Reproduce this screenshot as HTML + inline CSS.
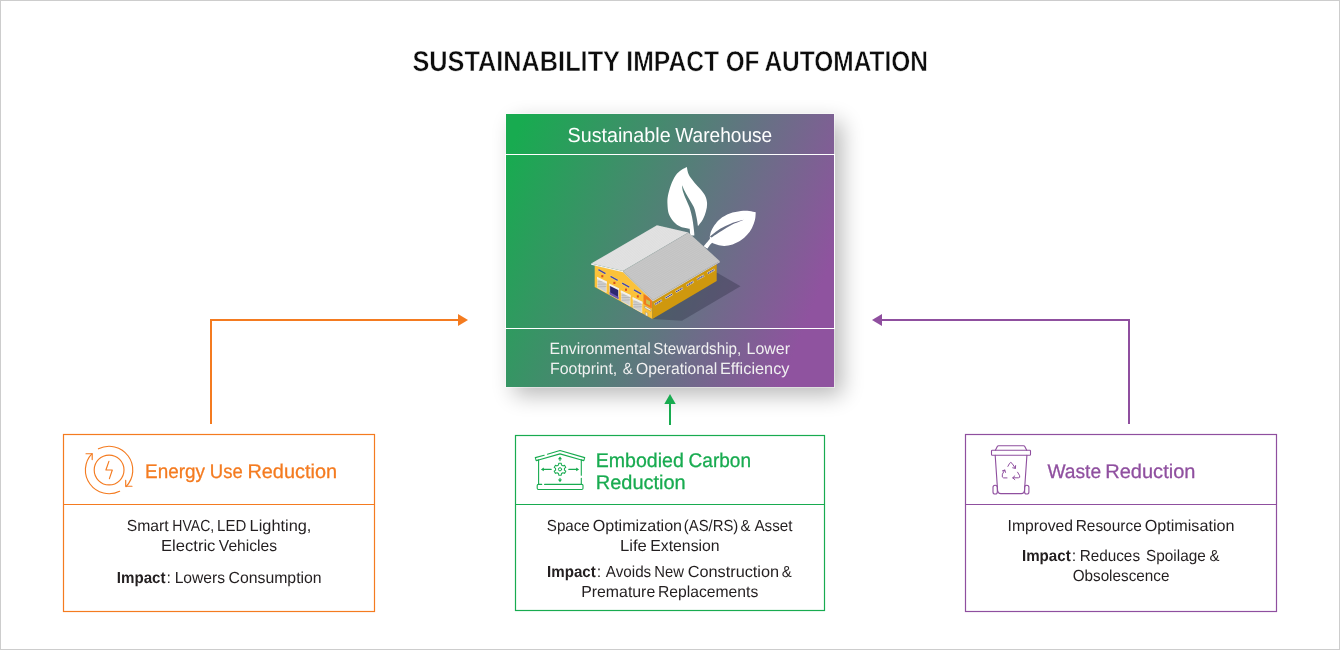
<!DOCTYPE html>
<html>
<head>
<meta charset="utf-8">
<title>Sustainability Impact of Automation</title>
<style>
  html, body { margin: 0; padding: 0; background: #ffffff; }
  body { width: 1340px; height: 650px; overflow: hidden; position: relative; font-family: "Liberation Sans", sans-serif; }
  svg { position: absolute; left: 0; top: 0; display: block; }
  text { font-family: "Liberation Sans", sans-serif; }
  .frame { position: absolute; left: 0; top: 0; width: 1338px; height: 648px; border: 1px solid #cdcdcd; pointer-events: none; }
</style>
</head>
<body>
<svg width="1340" height="650" viewBox="0 0 1340 650">
  <defs>
    <linearGradient id="gp" gradientUnits="userSpaceOnUse" x1="521.8" y1="120.4" x2="837" y2="247.4">
      <stop offset="0" stop-color="#18ab50"/>
      <stop offset="1" stop-color="#8f539f"/>
    </linearGradient>
    <filter id="sh" x="-20%" y="-20%" width="150%" height="150%">
      <feGaussianBlur stdDeviation="11"/>
    </filter>
  </defs>

  <!-- CENTER BOX -->
  <rect x="514" y="122" width="328" height="273" fill="#000" opacity="0.28" filter="url(#sh)"/>
  <rect x="506" y="114" width="328" height="273" fill="url(#gp)"/>
  <rect x="505.5" y="113.5" width="329" height="274" fill="none" stroke="#ffffff" stroke-opacity="0.4" stroke-width="1"/>
  <rect x="505.5" y="154.5" width="329" height="174" fill="none" stroke="#ffffff" stroke-width="1"/>

  <!-- ILLUSTRATION -->
  <g id="illus">
    <!-- leaves -->
    <g fill="#ffffff">
      <path d="M686.86,166.93 C685.94,167.44 683.17,168.59 681.32,169.98 C679.48,171.36 677.51,172.75 675.78,175.24 C674.05,177.73 672.25,181.47 670.93,184.94 C669.62,188.40 668.46,192.79 667.88,196.02 C667.31,199.25 667.31,201.33 667.47,204.33 C667.63,207.34 667.82,211.15 668.85,214.03 C669.89,216.92 671.74,219.53 673.70,221.65 C675.67,223.78 677.97,225.58 680.63,226.78 C683.29,227.98 688.13,228.51 689.64,228.86 C689.68,229.27 689.80,230.24 689.91,231.35 C690.03,232.46 690.26,234.81 690.33,235.51 L694.48,235.51 L697.95,226.22 C698.76,225.11 701.46,222.07 702.80,219.57 C704.14,217.08 705.27,213.92 705.98,211.26 C706.70,208.61 707.16,206.07 707.09,203.64 C707.02,201.22 706.40,198.79 705.57,196.71 C704.74,194.64 703.72,193.25 702.10,191.17 C700.49,189.09 697.83,186.55 695.87,184.24 C693.91,181.94 691.64,179.28 690.33,177.32 C689.01,175.36 688.55,174.20 687.97,172.47 C687.40,170.74 687.05,167.85 686.86,166.93Z"/>
      <path d="M709.72,236.89 C709.96,235.97 710.30,233.31 711.11,231.35 C711.92,229.39 713.07,227.19 714.57,225.11 C716.07,223.04 717.58,220.80 720.11,218.88 C722.65,216.96 726.35,214.91 729.81,213.62 C733.28,212.32 737.66,211.56 740.90,211.12 C744.13,210.68 746.74,210.78 749.21,210.98 C751.68,211.19 754.64,212.14 755.72,212.37 C755.60,213.57 755.65,216.99 755.03,219.57 C754.40,222.16 753.30,225.35 751.98,227.89 C750.66,230.43 748.98,232.73 747.13,234.81 C745.28,236.89 743.32,238.74 740.90,240.35 C738.47,241.97 735.35,243.59 732.58,244.51 C729.81,245.43 726.81,245.85 724.27,245.90 C721.73,245.94 719.38,245.32 717.34,244.79 C715.31,244.26 712.96,243.06 712.08,242.71 C711.69,243.13 710.51,244.21 709.72,245.20 C708.94,246.20 707.76,248.09 707.37,248.67 L703.77,246.17 C704.23,245.62 705.54,244.05 706.54,242.85 C707.53,241.65 709.19,239.96 709.72,238.97 C710.26,237.98 709.72,237.24 709.72,236.89Z"/>
    </g>
    <path d="M682.29,185.49 C682.64,186.32 683.38,188.49 684.37,190.48 C685.36,192.47 686.68,194.64 688.25,197.41 C689.82,200.18 692.41,203.76 693.79,207.10 C695.18,210.45 695.87,214.31 696.56,217.50 C697.26,220.68 697.72,224.77 697.95,226.22 L701.41,229.96 L696.56,238.97 L694.48,235.51 C694.32,234.00 693.91,229.50 693.51,226.50 C693.12,223.50 692.78,220.61 692.13,217.50 C691.48,214.38 690.79,211.15 689.64,207.80 C688.48,204.45 686.36,200.29 685.20,197.41 C684.05,194.52 683.22,192.42 682.71,190.48 C682.20,188.54 682.25,186.55 682.15,185.77Z" fill="url(#gp)"/>
    <path d="M710.00,236.48 C711.69,235.21 716.58,231.03 720.11,228.86 C723.65,226.69 727.27,224.95 731.20,223.45 C735.12,221.95 741.59,220.45 743.67,219.85 C741.70,220.91 735.59,223.04 731.89,224.84 C728.20,226.64 724.94,228.81 721.50,230.93 C718.06,233.06 712.96,236.48 711.25,237.58Z" fill="url(#gp)"/>
    <!-- ground shadow -->
    <polygon points="652.4,318.9 682.0,320.8 740.5,286.3 716.7,272.5" fill="#2f2e44" fill-opacity="0.37"/>
    <!-- walls -->
    <polygon points="594.7,265.2 623.0,271.4 652.4,300.3 652.4,318.9 594.7,287.1" fill="#fbc23a"/>
    <polygon points="652.4,300.3 716.7,264.1 716.7,280.9 652.4,318.9" fill="#cf980e"/>
    <g>
      <line x1="654.7" y1="304.5" x2="661.8" y2="300.3" stroke="#ecdca6" stroke-width="2.3"/>
      <line x1="655.1" y1="304.3" x2="661.4" y2="300.5" stroke="#3f43a4" stroke-width="1.2" stroke-dasharray="1.6 0.5"/>
      <line x1="665.2" y1="298.2" x2="672.3" y2="294.0" stroke="#ecdca6" stroke-width="2.3"/>
      <line x1="665.6" y1="298.0" x2="671.9" y2="294.2" stroke="#3f43a4" stroke-width="1.2" stroke-dasharray="1.6 0.5"/>
      <line x1="675.7" y1="292.0" x2="682.8" y2="287.9" stroke="#ecdca6" stroke-width="2.3"/>
      <line x1="676.1" y1="291.8" x2="682.4" y2="288.1" stroke="#3f43a4" stroke-width="1.2" stroke-dasharray="1.6 0.5"/>
      <line x1="686.5" y1="285.7" x2="693.6" y2="281.6" stroke="#ecdca6" stroke-width="2.3"/>
      <line x1="686.9" y1="285.5" x2="693.2" y2="281.8" stroke="#3f43a4" stroke-width="1.2" stroke-dasharray="1.6 0.5"/>
      <line x1="697.0" y1="279.6" x2="704.1" y2="275.5" stroke="#ecdca6" stroke-width="2.3"/>
      <line x1="697.4" y1="279.4" x2="703.7" y2="275.7" stroke="#3f43a4" stroke-width="1.2" stroke-dasharray="1.6 0.5"/>
      <line x1="707.5" y1="273.6" x2="714.6" y2="269.5" stroke="#ecdca6" stroke-width="2.3"/>
      <line x1="707.9" y1="273.4" x2="714.2" y2="269.7" stroke="#3f43a4" stroke-width="1.2" stroke-dasharray="1.6 0.5"/>
      <line x1="598.1" y1="269.6" x2="605.8" y2="273.9" stroke="#fad97a" stroke-width="2"/>
      <line x1="598.4" y1="269.7" x2="605.5" y2="273.7" stroke="#4548a6" stroke-width="1.35"/>
      <rect x="601.3" y="275.1" width="2" height="2.2" fill="#d9501c"/>
      <polygon points="597.6,277.7 606.3,282.5 606.3,292.5 597.6,287.7" fill="#cfcfcf" stroke="#f1ede0" stroke-width="0.6"/>
      <line x1="597.6" y1="281.8" x2="606.3" y2="281.5" stroke="#aeaeae" stroke-width="0.7"/>
      <line x1="597.6" y1="284.3" x2="606.3" y2="284.0" stroke="#aeaeae" stroke-width="0.7"/>
      <line x1="597.6" y1="286.8" x2="606.3" y2="286.5" stroke="#aeaeae" stroke-width="0.7"/>
      <polygon points="597.0,276.7 607.0,281.6 607.0,283.8 597.0,279.0" fill="#f3f1ea"/>
      <line x1="610.2" y1="276.2" x2="618.0" y2="280.5" stroke="#fad97a" stroke-width="2"/>
      <line x1="610.5" y1="276.3" x2="617.7" y2="280.3" stroke="#4548a6" stroke-width="1.35"/>
      <rect x="613.4" y="281.8" width="2" height="2.2" fill="#d9501c"/>
      <polygon points="609.7,284.3 618.5,289.1 618.5,299.2 609.7,294.4" fill="#2c2870" stroke="#f1ede0" stroke-width="0.6"/>
      <polygon points="609.7,292.1 618.5,296.9 618.5,299.2 609.7,294.4" fill="#6a55b0"/>
      <polygon points="609.1,283.4 619.1,288.2 619.1,290.4 609.1,285.6" fill="#f3f1ea"/>
      <line x1="621.8" y1="283.0" x2="629.6" y2="287.3" stroke="#fad97a" stroke-width="2"/>
      <line x1="622.1" y1="283.1" x2="629.3" y2="287.1" stroke="#4548a6" stroke-width="1.35"/>
      <rect x="625.0" y="288.6" width="2" height="2.2" fill="#d9501c"/>
      <polygon points="621.4,291.1 630.1,295.9 630.1,306.0 621.4,301.1" fill="#cfcfcf" stroke="#f1ede0" stroke-width="0.6"/>
      <line x1="621.4" y1="295.2" x2="630.1" y2="294.9" stroke="#aeaeae" stroke-width="0.7"/>
      <line x1="621.4" y1="297.7" x2="630.1" y2="297.4" stroke="#aeaeae" stroke-width="0.7"/>
      <line x1="621.4" y1="300.3" x2="630.1" y2="299.9" stroke="#aeaeae" stroke-width="0.7"/>
      <polygon points="620.7,290.2 630.7,295.0 630.7,297.2 620.7,292.4" fill="#f3f1ea"/>
      <line x1="633.6" y1="289.8" x2="641.4" y2="294.1" stroke="#fad97a" stroke-width="2"/>
      <line x1="633.9" y1="289.9" x2="641.1" y2="293.9" stroke="#4548a6" stroke-width="1.35"/>
      <rect x="636.8" y="295.3" width="2" height="2.2" fill="#d9501c"/>
      <polygon points="633.2,297.9 641.9,302.7 641.9,312.7 633.2,307.9" fill="#cfcfcf" stroke="#f1ede0" stroke-width="0.6"/>
      <line x1="633.2" y1="302.0" x2="641.9" y2="301.7" stroke="#aeaeae" stroke-width="0.7"/>
      <line x1="633.2" y1="304.5" x2="641.9" y2="304.2" stroke="#aeaeae" stroke-width="0.7"/>
      <line x1="633.2" y1="307.0" x2="641.9" y2="306.7" stroke="#aeaeae" stroke-width="0.7"/>
      <polygon points="632.5,296.9 642.5,301.8 642.5,304.0 632.5,299.2" fill="#f3f1ea"/>
      <polygon points="643.5,294.0 651.9,298.7 651.9,308.6 643.5,303.9" fill="#f07a1e"/>
      <polygon points="646.1,299.2 650.0,301.3 650.0,305.6 646.1,303.5" fill="#c9c24e"/>
      <polygon points="644.8,306.0 650.9,309.4 650.9,311.3 644.8,307.9" fill="#f4f1ea" stroke="#555" stroke-width="0.3"/>
      <polygon points="645.4,311.8 647.7,313.1 647.7,316.6 645.4,315.3" fill="#e9e6dc" stroke="#7a6a30" stroke-width="0.3"/>
    </g>
    <!-- roof -->
    <polygon points="591.1,263.6 623.0,270.9 623.0,272.2 591.1,264.8" fill="#f2f2f2"/>
    <polygon points="623.0,270.9 652.9,300.3 719.9,261.2 719.9,262.3 652.9,301.6 623.0,272.2" fill="#cfcfcf"/>
    <polygon points="591.1,263.6 656.9,225.2 688.4,232.6 623.0,270.9" fill="#dedede"/>
    <polygon points="623.0,270.9 688.4,232.6 719.9,261.2 652.9,300.3" fill="#c3c3c3"/>
    <g>
      <line x1="593.1" y1="264.1" x2="658.9" y2="225.6" stroke="#ffffff" stroke-opacity="0.35" stroke-width="0.4"/>
      <line x1="595.1" y1="264.5" x2="660.9" y2="226.1" stroke="#ffffff" stroke-opacity="0.35" stroke-width="0.4"/>
      <line x1="597.1" y1="265.0" x2="662.8" y2="226.6" stroke="#ffffff" stroke-opacity="0.35" stroke-width="0.4"/>
      <line x1="599.1" y1="265.5" x2="664.8" y2="227.0" stroke="#ffffff" stroke-opacity="0.35" stroke-width="0.4"/>
      <line x1="601.1" y1="265.9" x2="666.8" y2="227.5" stroke="#ffffff" stroke-opacity="0.35" stroke-width="0.4"/>
      <line x1="603.1" y1="266.4" x2="668.7" y2="228.0" stroke="#ffffff" stroke-opacity="0.35" stroke-width="0.4"/>
      <line x1="605.1" y1="266.8" x2="670.7" y2="228.4" stroke="#ffffff" stroke-opacity="0.35" stroke-width="0.4"/>
      <line x1="607.1" y1="267.3" x2="672.7" y2="228.9" stroke="#ffffff" stroke-opacity="0.35" stroke-width="0.4"/>
      <line x1="609.0" y1="267.7" x2="674.6" y2="229.4" stroke="#ffffff" stroke-opacity="0.35" stroke-width="0.4"/>
      <line x1="611.0" y1="268.2" x2="676.6" y2="229.8" stroke="#ffffff" stroke-opacity="0.35" stroke-width="0.4"/>
      <line x1="613.0" y1="268.6" x2="678.6" y2="230.3" stroke="#ffffff" stroke-opacity="0.35" stroke-width="0.4"/>
      <line x1="615.0" y1="269.1" x2="680.5" y2="230.7" stroke="#ffffff" stroke-opacity="0.35" stroke-width="0.4"/>
      <line x1="617.0" y1="269.5" x2="682.5" y2="231.2" stroke="#ffffff" stroke-opacity="0.35" stroke-width="0.4"/>
      <line x1="619.0" y1="270.0" x2="684.5" y2="231.7" stroke="#ffffff" stroke-opacity="0.35" stroke-width="0.4"/>
      <line x1="621.0" y1="270.5" x2="686.5" y2="232.1" stroke="#ffffff" stroke-opacity="0.35" stroke-width="0.4"/>
      <line x1="624.3" y1="272.2" x2="689.9" y2="233.9" stroke="#ffffff" stroke-opacity="0.22" stroke-width="0.4"/>
      <line x1="625.7" y1="273.6" x2="691.3" y2="235.2" stroke="#ffffff" stroke-opacity="0.22" stroke-width="0.4"/>
      <line x1="627.1" y1="274.9" x2="692.7" y2="236.5" stroke="#ffffff" stroke-opacity="0.22" stroke-width="0.4"/>
      <line x1="628.4" y1="276.3" x2="694.2" y2="237.8" stroke="#ffffff" stroke-opacity="0.22" stroke-width="0.4"/>
      <line x1="629.8" y1="277.6" x2="695.6" y2="239.1" stroke="#ffffff" stroke-opacity="0.22" stroke-width="0.4"/>
      <line x1="631.1" y1="278.9" x2="697.0" y2="240.4" stroke="#ffffff" stroke-opacity="0.22" stroke-width="0.4"/>
      <line x1="632.5" y1="280.3" x2="698.5" y2="241.7" stroke="#ffffff" stroke-opacity="0.22" stroke-width="0.4"/>
      <line x1="633.8" y1="281.6" x2="699.9" y2="243.0" stroke="#ffffff" stroke-opacity="0.22" stroke-width="0.4"/>
      <line x1="635.2" y1="282.9" x2="701.3" y2="244.3" stroke="#ffffff" stroke-opacity="0.22" stroke-width="0.4"/>
      <line x1="636.6" y1="284.3" x2="702.7" y2="245.6" stroke="#ffffff" stroke-opacity="0.22" stroke-width="0.4"/>
      <line x1="637.9" y1="285.6" x2="704.2" y2="246.9" stroke="#ffffff" stroke-opacity="0.22" stroke-width="0.4"/>
      <line x1="639.3" y1="286.9" x2="705.6" y2="248.2" stroke="#ffffff" stroke-opacity="0.22" stroke-width="0.4"/>
      <line x1="640.6" y1="288.3" x2="707.0" y2="249.5" stroke="#ffffff" stroke-opacity="0.22" stroke-width="0.4"/>
      <line x1="642.0" y1="289.6" x2="708.5" y2="250.8" stroke="#ffffff" stroke-opacity="0.22" stroke-width="0.4"/>
      <line x1="643.4" y1="291.0" x2="709.9" y2="252.1" stroke="#ffffff" stroke-opacity="0.22" stroke-width="0.4"/>
      <line x1="644.7" y1="292.3" x2="711.3" y2="253.4" stroke="#ffffff" stroke-opacity="0.22" stroke-width="0.4"/>
      <line x1="646.1" y1="293.6" x2="712.8" y2="254.7" stroke="#ffffff" stroke-opacity="0.22" stroke-width="0.4"/>
      <line x1="647.4" y1="295.0" x2="714.2" y2="256.0" stroke="#ffffff" stroke-opacity="0.22" stroke-width="0.4"/>
      <line x1="648.8" y1="296.3" x2="715.6" y2="257.3" stroke="#ffffff" stroke-opacity="0.22" stroke-width="0.4"/>
      <line x1="650.2" y1="297.6" x2="717.1" y2="258.6" stroke="#ffffff" stroke-opacity="0.22" stroke-width="0.4"/>
      <line x1="651.5" y1="299.0" x2="718.5" y2="259.9" stroke="#ffffff" stroke-opacity="0.22" stroke-width="0.4"/>
    </g>
  </g>

  <!-- ARROWS -->
  <g id="arrows">
    <polyline points="211,424 211,320 459,320" fill="none" stroke="#f47b20" stroke-width="2"/>
    <polygon points="458,314 468,320 458,326" fill="#f47b20"/>
    <polyline points="1129,424 1129,320 881,320" fill="none" stroke="#8f4f9f" stroke-width="2"/>
    <polygon points="882,314 872,320 882,326" fill="#8f4f9f"/>
    <line x1="670" y1="425" x2="670" y2="403" stroke="#18ab50" stroke-width="2"/>
    <polygon points="664.3,404 675.7,404 670,394" fill="#18ab50"/>
  </g>

  <!-- BOXES -->
  <g id="boxes" fill="none" stroke-width="1.2">
    <rect x="63.5" y="434.5" width="311" height="177" stroke="#f47b20"/>
    <line x1="63.5" y1="504.5" x2="374.5" y2="504.5" stroke="#f47b20"/>
    <rect x="515.5" y="435.5" width="309" height="175" stroke="#18ab50"/>
    <line x1="515.5" y1="504.5" x2="824.5" y2="504.5" stroke="#18ab50"/>
    <rect x="965.5" y="434.5" width="311" height="177" stroke="#8f4f9f"/>
    <line x1="965.5" y1="504.5" x2="1276.5" y2="504.5" stroke="#8f4f9f"/>
  </g>

  <!-- ICONS -->
  <g id="icon-energy">
    <g fill="none" stroke="#f47b20" stroke-width="1.15" stroke-linecap="round" stroke-linejoin="round">
      <circle cx="109.1" cy="470.0" r="14.9"/>
      <path d="M98.42,448.84 A23.7,23.7 0 0 1 126.06,486.55"/>
      <path d="M119.62,491.24 A23.7,23.7 0 0 1 92.04,453.55"/>
      <polyline points="125.7,480.4 125.7,486.2 132,486.2"/>
      <polyline points="86,453.7 92.2,453.7 92.2,459.6"/>
      <polyline points="108.9,461.4 105.9,470 112.3,470 109.4,478.6"/>
    </g>
  </g>
  <g id="icon-carbon">
    <g fill="none" stroke="#18ab50" stroke-width="1.1" stroke-linecap="round" stroke-linejoin="round">
      <!-- roof outer (with gap) -->
      <path d="M544.2,455.2 L535.3,457.6 L536.2,460.6 L538.6,460"/>
      <path d="M547.4,454.2 L560,450.5 L584.7,457.6 L583.8,460.6 L581.3,460"/>
      <!-- roof inner -->
      <path d="M537.6,460.2 L560,453.9 L582.4,460.2"/>
      <!-- walls -->
      <path d="M538.6,460 L538.6,484.4"/>
      <path d="M581.3,460 L581.3,475.2 M581.3,478.2 L581.3,484.4"/>
      <!-- floor -->
      <!-- base (open at gap) -->
      <path d="M541.7,484.4 L538.4,484.4 Q537.2,484.4 537.2,485.6 L537.2,488.3 Q537.2,489.5 538.4,489.5 L581.8,489.5 Q583,489.5 583,488.3 L583,485.6 Q583,484.4 581.8,484.4 L544.6,484.4"/>
      <!-- gear -->
      <path d="M558.53,465.05 L558.73,463.33 L561.27,463.33 L561.47,465.05 L562.95,465.90 L564.53,465.22 L565.80,467.41 L564.42,468.44 L564.42,470.16 L565.80,471.19 L564.53,473.38 L562.95,472.70 L561.47,473.55 L561.27,475.27 L558.73,475.27 L558.53,473.55 L557.05,472.70 L555.47,473.38 L554.20,471.19 L555.58,470.16 L555.58,468.44 L554.20,467.41 L555.47,465.22 L557.05,465.90Z" stroke-width="1.05"/>
      <circle cx="560.0" cy="469.3" r="1.6" stroke-width="1"/>
      <!-- arrows -->
      <path d="M551.2,469.4 L542.2,469.4 M568.8,469.4 L577.8,469.4"/>
      <path d="M560,460.6 L560,458.2 M560,478.2 L560,480.6"/>
    </g>
    <g fill="#18ab50" stroke="none">
      <polygon points="541,469.4 543.8,467.6 543.8,471.2"/>
      <polygon points="579,469.4 576.2,467.6 576.2,471.2"/>
      <polygon points="560,456.6 557.9,459.3 562.1,459.3"/>
      <polygon points="560,482.2 557.9,479.5 562.1,479.5"/>
    </g>
  </g>
  <g id="icon-waste">
    <g fill="none" stroke="#8f4f9f" stroke-width="1.1" stroke-linecap="round" stroke-linejoin="round">
      <!-- lid top -->
      <path d="M995.4,450.3 L997.3,446.4 Q997.7,445.7 998.5,445.7 L1023.6,445.7 Q1024.4,445.7 1024.8,446.4 L1026.7,450.3"/>
      <!-- lid rim -->
      <rect x="991.5" y="450.3" width="39" height="5" rx="0.8" ry="0.8"/>
      <!-- body -->
      <path d="M995.2,455.4 L997.6,490.6 Q997.9,493.6 1000.8,493.6 L1021.3,493.6 Q1024.2,493.6 1024.5,490.6 L1026.9,455.4"/>
      <!-- wheels -->
      <rect x="993" y="485.2" width="4.3" height="8.8" rx="2.1" ry="2.1"/>
      <rect x="1024.6" y="485.2" width="4.3" height="8.8" rx="2.1" ry="2.1"/>
      <!-- recycle arrows -->
      <path d="M1007.9,466.4 L1009.6,463.3 Q1010.8,461.6 1012,463.3 L1015.3,468.2" stroke-width="1"/>
      <path d="M1015.6,465.6 L1015.4,468.4 L1012.7,467.8" stroke-width="1"/>
      <path d="M1004.6,470.2 L1002.4,474.2 Q1001.6,477.8 1003.6,477.9 L1007,477.9" stroke-width="1"/>
      <path d="M1002.4,470.9 L1004.8,469.9 L1005.5,472.4" stroke-width="1"/>
      <path d="M1017.6,472.2 L1019.6,475.6 Q1020.4,477.8 1018.4,477.8 L1012.9,477.8" stroke-width="1"/>
      <path d="M1014.8,475.9 L1012.7,477.8 L1014.8,479.6" stroke-width="1"/>
    </g>
  </g>

  <!-- TEXT -->
  <g id="texts" opacity="0.999" text-rendering="geometricPrecision">
    <text transform="translate(412.40,70.9) scale(0.8878,1)" font-size="28.5" fill="#0d0d0d" font-weight="700" stroke="#ffffff" stroke-width="0.45">SUSTAINABILITY</text>
    <text transform="translate(626.36,70.9) scale(0.8661,1)" font-size="28.5" fill="#0d0d0d" font-weight="700" stroke="#ffffff" stroke-width="0.45">IMPACT</text>
    <text transform="translate(725.64,70.9) scale(0.8502,1)" font-size="28.5" fill="#0d0d0d" font-weight="700" stroke="#ffffff" stroke-width="0.45">OF</text>
    <text transform="translate(764.42,70.9) scale(0.8582,1)" font-size="28.5" fill="#0d0d0d" font-weight="700" stroke="#ffffff" stroke-width="0.45">AUTOMATION</text>
    <text transform="translate(567.53,142.0) scale(0.9672,1)" font-size="20.4" fill="#ffffff">Sustainable</text>
    <text transform="translate(675.25,142.0) scale(0.9364,1)" font-size="20.4" fill="#ffffff">Warehouse</text>
    <text transform="translate(549.41,354.25) scale(0.9791,1)" font-size="16.2" fill="#f1f1f1">Environmental</text>
    <text transform="translate(653.37,354.25) scale(0.9387,1)" font-size="16.2" fill="#f1f1f1">Stewardship,</text>
    <text transform="translate(746.60,354.25) scale(0.9841,1)" font-size="16.2" fill="#f1f1f1">Lower</text>
    <text transform="translate(550.00,374.15) scale(0.9840,1)" font-size="16.2" fill="#f1f1f1">Footprint,</text>
    <text transform="translate(622.78,374.15) scale(0.9185,1)" font-size="16.2" fill="#f1f1f1">&amp;</text>
    <text transform="translate(636.11,374.15) scale(0.9680,1)" font-size="16.2" fill="#f1f1f1">Operational</text>
    <text transform="translate(719.97,374.15) scale(1.0079,1)" font-size="16.2" fill="#f1f1f1">Efficiency</text>
    <text transform="translate(145.02,477.9) scale(0.9561,1)" font-size="19.8" fill="#f47b20" stroke="#f47b20" stroke-width="0.28">Energy</text>
    <text transform="translate(209.84,477.9) scale(0.9346,1)" font-size="19.8" fill="#f47b20" stroke="#f47b20" stroke-width="0.28">Use</text>
    <text transform="translate(247.44,477.9) scale(1.0058,1)" font-size="19.8" fill="#f47b20" stroke="#f47b20" stroke-width="0.28">Reduction</text>
    <text transform="translate(126.76,531.0) scale(0.9828,1)" font-size="16.0" fill="#231f20">Smart</text>
    <text transform="translate(172.35,531.0) scale(0.8770,1)" font-size="16.0" fill="#231f20">HVAC,</text>
    <text transform="translate(217.08,531.0) scale(0.9379,1)" font-size="16.0" fill="#231f20">LED</text>
    <text transform="translate(249.57,531.0) scale(1.0216,1)" font-size="16.0" fill="#231f20">Lighting,</text>
    <text transform="translate(160.95,551.05) scale(1.0382,1)" font-size="16.0" fill="#231f20">Electric</text>
    <text transform="translate(218.85,551.05) scale(0.9764,1)" font-size="16.0" fill="#231f20">Vehicles</text>
    <text transform="translate(116.76,583.0) scale(0.9447,1)" font-size="16.0" fill="#231f20" font-weight="700">Impact</text>
    <text transform="translate(166.55,583.0) scale(1.0000,1)" font-size="16.0" fill="#231f20">:</text>
    <text transform="translate(174.63,583.0) scale(0.9774,1)" font-size="16.0" fill="#231f20">Lowers</text>
    <text transform="translate(228.51,583.0) scale(0.9879,1)" font-size="16.0" fill="#231f20">Consumption</text>
    <text transform="translate(595.77,467.05) scale(0.9884,1)" font-size="19.8" fill="#18ab50" stroke="#18ab50" stroke-width="0.28">Embodied</text>
    <text transform="translate(688.61,467.05) scale(0.9618,1)" font-size="19.8" fill="#18ab50" stroke="#18ab50" stroke-width="0.28">Carbon</text>
    <text transform="translate(595.74,489.0) scale(1.0104,1)" font-size="19.8" fill="#18ab50" stroke="#18ab50" stroke-width="0.28">Reduction</text>
    <text transform="translate(546.78,531.0) scale(0.9476,1)" font-size="16.0" fill="#231f20">Space</text>
    <text transform="translate(592.70,531.0) scale(1.0049,1)" font-size="16.0" fill="#231f20">Optimization</text>
    <text transform="translate(683.75,531.0) scale(0.9300,1)" font-size="16.0" fill="#231f20">(AS/RS)</text>
    <text transform="translate(740.38,531.0) scale(0.9300,1)" font-size="16.0" fill="#231f20">&amp;</text>
    <text transform="translate(754.45,531.0) scale(0.9508,1)" font-size="16.0" fill="#231f20">Asset</text>
    <text transform="translate(619.95,550.9) scale(1.0419,1)" font-size="16.0" fill="#231f20">Life</text>
    <text transform="translate(650.21,550.9) scale(0.9880,1)" font-size="16.0" fill="#231f20">Extension</text>
    <text transform="translate(547.06,576.9) scale(0.9447,1)" font-size="16.0" fill="#231f20" font-weight="700">Impact</text>
    <text transform="translate(596.85,576.9) scale(1.0000,1)" font-size="16.0" fill="#231f20">:</text>
    <text transform="translate(605.85,576.9) scale(0.9506,1)" font-size="16.0" fill="#231f20">Avoids</text>
    <text transform="translate(654.29,576.9) scale(0.9272,1)" font-size="16.0" fill="#231f20">New</text>
    <text transform="translate(687.69,576.9) scale(1.0173,1)" font-size="16.0" fill="#231f20">Construction</text>
    <text transform="translate(781.78,576.9) scale(0.9300,1)" font-size="16.0" fill="#231f20">&amp;</text>
    <text transform="translate(581.21,596.8) scale(0.9904,1)" font-size="16.0" fill="#231f20">Premature</text>
    <text transform="translate(658.03,596.8) scale(0.9799,1)" font-size="16.0" fill="#231f20">Replacements</text>
    <text transform="translate(1047.40,477.9) scale(0.9711,1)" font-size="19.8" fill="#8f4f9f" stroke="#8f4f9f" stroke-width="0.28">Waste</text>
    <text transform="translate(1105.23,477.9) scale(1.0127,1)" font-size="19.8" fill="#8f4f9f" stroke="#8f4f9f" stroke-width="0.28">Reduction</text>
    <text transform="translate(1007.62,531.0) scale(0.9807,1)" font-size="16.0" fill="#231f20">Improved</text>
    <text transform="translate(1075.64,531.0) scale(0.9658,1)" font-size="16.0" fill="#231f20">Resource</text>
    <text transform="translate(1144.69,531.0) scale(1.0095,1)" font-size="16.0" fill="#231f20">Optimisation</text>
    <text transform="translate(1021.96,560.9) scale(0.9447,1)" font-size="16.0" fill="#231f20" font-weight="700">Impact</text>
    <text transform="translate(1071.75,560.9) scale(1.0000,1)" font-size="16.0" fill="#231f20">:</text>
    <text transform="translate(1079.65,560.9) scale(0.9561,1)" font-size="16.0" fill="#231f20">Reduces</text>
    <text transform="translate(1145.97,560.9) scale(0.9603,1)" font-size="16.0" fill="#231f20">Spoilage</text>
    <text transform="translate(1209.38,560.9) scale(0.9300,1)" font-size="16.0" fill="#231f20">&amp;</text>
    <text transform="translate(1072.63,580.9) scale(0.9541,1)" font-size="16.0" fill="#231f20">Obsolescence</text>
  </g>
</svg>
<div class="frame"></div>
</body>
</html>
